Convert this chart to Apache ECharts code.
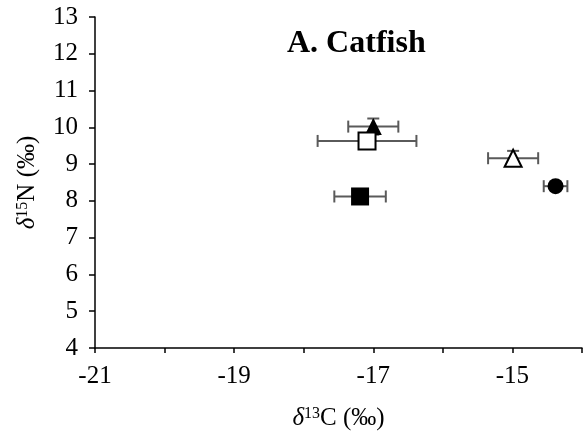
<!DOCTYPE html>
<html>
<head>
<meta charset="utf-8">
<script src="https://cdn.jsdelivr.net/npm/echarts@6/dist/echarts.min.js"></script>
<style>
  html, body { margin: 0; padding: 0; background: #fff; }
  #chart { width: 585px; height: 436px; }
</style>
</head>
<body>
<div id="chart"></div>
<script>
// mean values and error
const carbon = [-17.0, -17.09, -17.19, -14.99, -14.38];
const nitrogen = [10.02, 9.63, 8.12, 9.16, 8.40];
const carbonErr = [0.36, 0.71, 0.37, 0.36, 0.17];
const nitrogenErr = [0.22, 0.2, 0.1, 0.2, 0.1];

const xTickLabels = ['-21', '-19', '-17', '-15'];
const yTickLabels = ['4', '5', '6', '7', '8', '9', '10', '11', '12', '13'];

// marker look per point
const markerStyles = [
    { symbol: 'triangle', size: 17, filled: true },
    { symbol: 'rect', size: 17, filled: false },
    { symbol: 'rect', size: 18, filled: true },
    { symbol: 'triangle', size: 17, filled: false },
    { symbol: 'circle', size: 16, filled: true }
];

const font = 'Liberation Serif, "Times New Roman", serif';
const chart = echarts.init(document.getElementById('chart'));

const errorData = carbon.map((c, i) => [c, nitrogen[i], carbonErr[i], nitrogenErr[i]]);

const markerSeries = carbon.map((c, i) => ({
    type: 'scatter',
    z: 3,
    symbol: markerStyles[i].symbol,
    symbolSize: markerStyles[i].size,
    itemStyle: {
        color: markerStyles[i].filled ? '#000' : '#fff',
        borderColor: '#000',
        borderWidth: markerStyles[i].filled ? 0 : 2,
        opacity: 1
    },
    emphasis: { disabled: true },
    data: [[c, nitrogen[i]]]
}));

const axisLine = { show: true, onZero: false, lineStyle: { color: '#000', width: 1.5 } };
const nameRich = {
    i: { fontFamily: font, fontSize: 25, fontStyle: 'italic', color: '#000' },
    s: { fontFamily: font, fontSize: 16, color: '#000', verticalAlign: 'top', padding: [0, 0, 8, 0] }
};

const option = {
    animation: false,
    title: {
        text: 'A. Catfish',
        left: 282,
        top: 23,
        textStyle: { fontFamily: font, fontWeight: 'bold', fontSize: 32, color: '#000' }
    },
    grid: { left: 95, right: 3, top: 17, bottom: 86 },
    xAxis: {
        type: 'value',
        min: -21,
        max: -14,
        interval: 1,
        splitLine: { show: false },
        axisLine: axisLine,
        axisTick: { show: true, length: 5, lineStyle: { color: '#000', width: 1.5 } },
        axisLabel: {
            fontFamily: font, fontSize: 25, color: '#000', margin: 16,
            showMinLabel: true, showMaxLabel: true,
            formatter: v => xTickLabels.includes(String(v)) ? String(v) : ''
        },
        name: '{i|δ}{s|13}C (‰)',
        nameLocation: 'middle',
        nameGap: 58,
        nameTextStyle: { fontFamily: font, fontSize: 25, color: '#000', rich: nameRich }
    },
    yAxis: {
        type: 'value',
        min: 4,
        max: 13,
        interval: 1,
        splitLine: { show: false },
        axisLine: axisLine,
        axisTick: { show: true, length: 6, lineStyle: { color: '#000', width: 1.5 } },
        axisLabel: {
            fontFamily: font, fontSize: 25, color: '#000', margin: 17,
            formatter: v => yTickLabels.includes(String(v)) ? String(v) : ''
        },
        name: '{i|δ}{s|15}N (‰)',
        nameLocation: 'middle',
        nameGap: 55,
        nameRotate: 90,
        nameTextStyle: { fontFamily: font, fontSize: 25, color: '#000', rich: nameRich }
    },
    series: [
        {
            type: 'custom',
            z: 1,
            data: errorData,
            renderItem: (params, api) => {
                const x = api.value(0), y = api.value(1), ex = api.value(2), ey = api.value(3);
                const left = api.coord([x - ex, y]);
                const right = api.coord([x + ex, y]);
                const top = api.coord([x, y + ey]);
                const bottom = api.coord([x, y - ey]);
                const cap = 6;
                const style = { stroke: '#5a5a5a', lineWidth: 2 };
                const line = (x1, y1, x2, y2) => ({ type: 'line', shape: { x1, y1, x2, y2 }, style });
                return {
                    type: 'group',
                    children: [
                        line(left[0], left[1], right[0], right[1]),
                        line(left[0], left[1] - cap, left[0], left[1] + cap),
                        line(right[0], right[1] - cap, right[0], right[1] + cap),
                        line(top[0], top[1], bottom[0], bottom[1]),
                        line(top[0] - cap, top[1], top[0] + cap, top[1]),
                        line(bottom[0] - cap, bottom[1], bottom[0] + cap, bottom[1])
                    ]
                };
            }
        },
        ...markerSeries
    ]
};

chart.setOption(option);
</script>
</body>
</html>
